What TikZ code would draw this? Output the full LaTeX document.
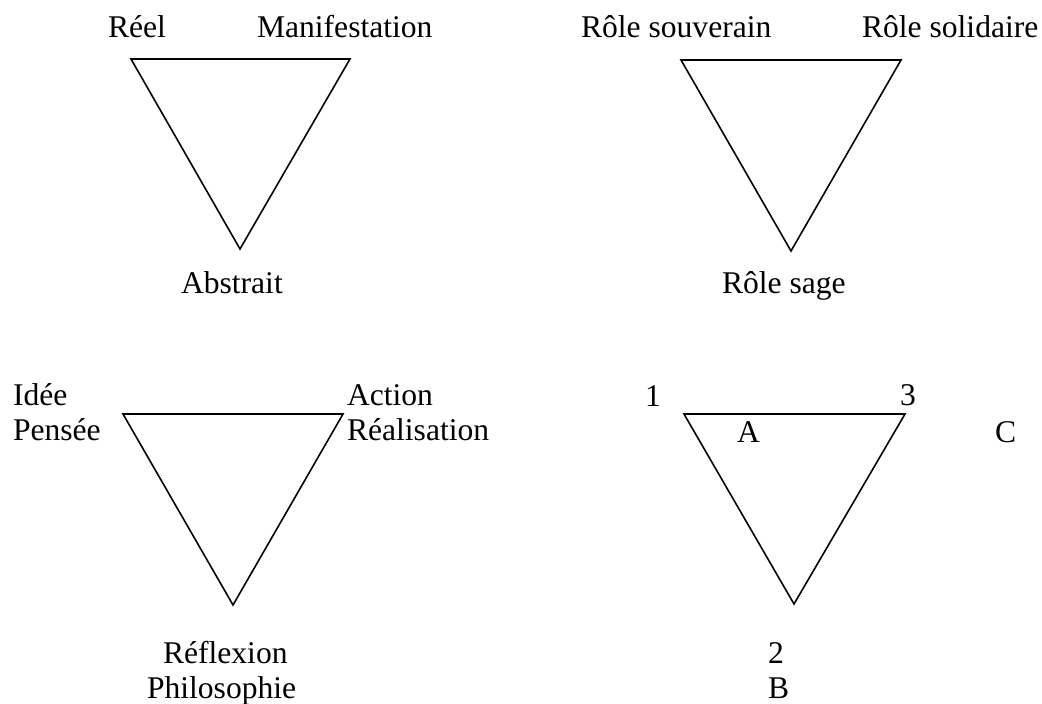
\documentclass[tikz,border=0pt]{standalone}
\usepackage{fontspec}
\setmainfont{Liberation Serif}
\begin{document}
\begin{tikzpicture}[x=1pt,y=-1pt,
  lbl/.style={anchor=base west,inner sep=0pt,outer sep=0pt,font=\fontsize{31.6}{35}\selectfont},
  tri/.style={draw=black,line width=1.6pt,line join=miter}]
\useasboundingbox (0,0) rectangle (1042,704);
% triangle 1
\coordinate (t1a) at (131,59);
\coordinate (t1b) at (350,59);
\coordinate (t1c) at (240,249);
\draw[tri] (t1a) -- (t1b) -- (t1c) -- cycle;
\node[lbl] (reel) at (108,37) {Réel};
\node[lbl] (manif) at (257,37) {Manifestation};
\node[lbl] (abstr) at (181,293) {Abstrait};
% triangle 2
\coordinate (t2a) at (681,60);
\coordinate (t2b) at (901,60);
\coordinate (t2c) at (791,251);
\draw[tri] (t2a) -- (t2b) -- (t2c) -- cycle;
\node[lbl] (souv) at (581,37) {Rôle souverain};
\node[lbl] (solid) at (862,37) {Rôle solidaire};
\node[lbl] (sage) at (722,293) {Rôle sage};
% triangle 3
\coordinate (t3a) at (123,414);
\coordinate (t3b) at (343,414);
\coordinate (t3c) at (233,605);
\draw[tri] (t3a) -- (t3b) -- (t3c) -- cycle;
\node[lbl] (idee) at (13,405) {Idée};
\node[lbl] (pensee) at (13,440) {Pensée};
\node[lbl] (action) at (347,405) {Action};
\node[lbl] (realis) at (347,440) {Réalisation};
\node[lbl] (reflex) at (163,663) {Réflexion};
\node[lbl] (philo) at (147,698) {Philosophie};
% triangle 4
\coordinate (t4a) at (684,414);
\coordinate (t4b) at (905,414);
\coordinate (t4c) at (794,604);
\draw[tri] (t4a) -- (t4b) -- (t4c) -- cycle;
\node[lbl] (n1) at (645,406) {1};
\node[lbl] (n3) at (900,405) {3};
\node[lbl] (nA) at (737,442) {A};
\node[lbl] (nC) at (995,442) {C};
\node[lbl] (n2) at (768,663) {2};
\node[lbl] (nB) at (768,698) {B};
\end{tikzpicture}
\end{document}
